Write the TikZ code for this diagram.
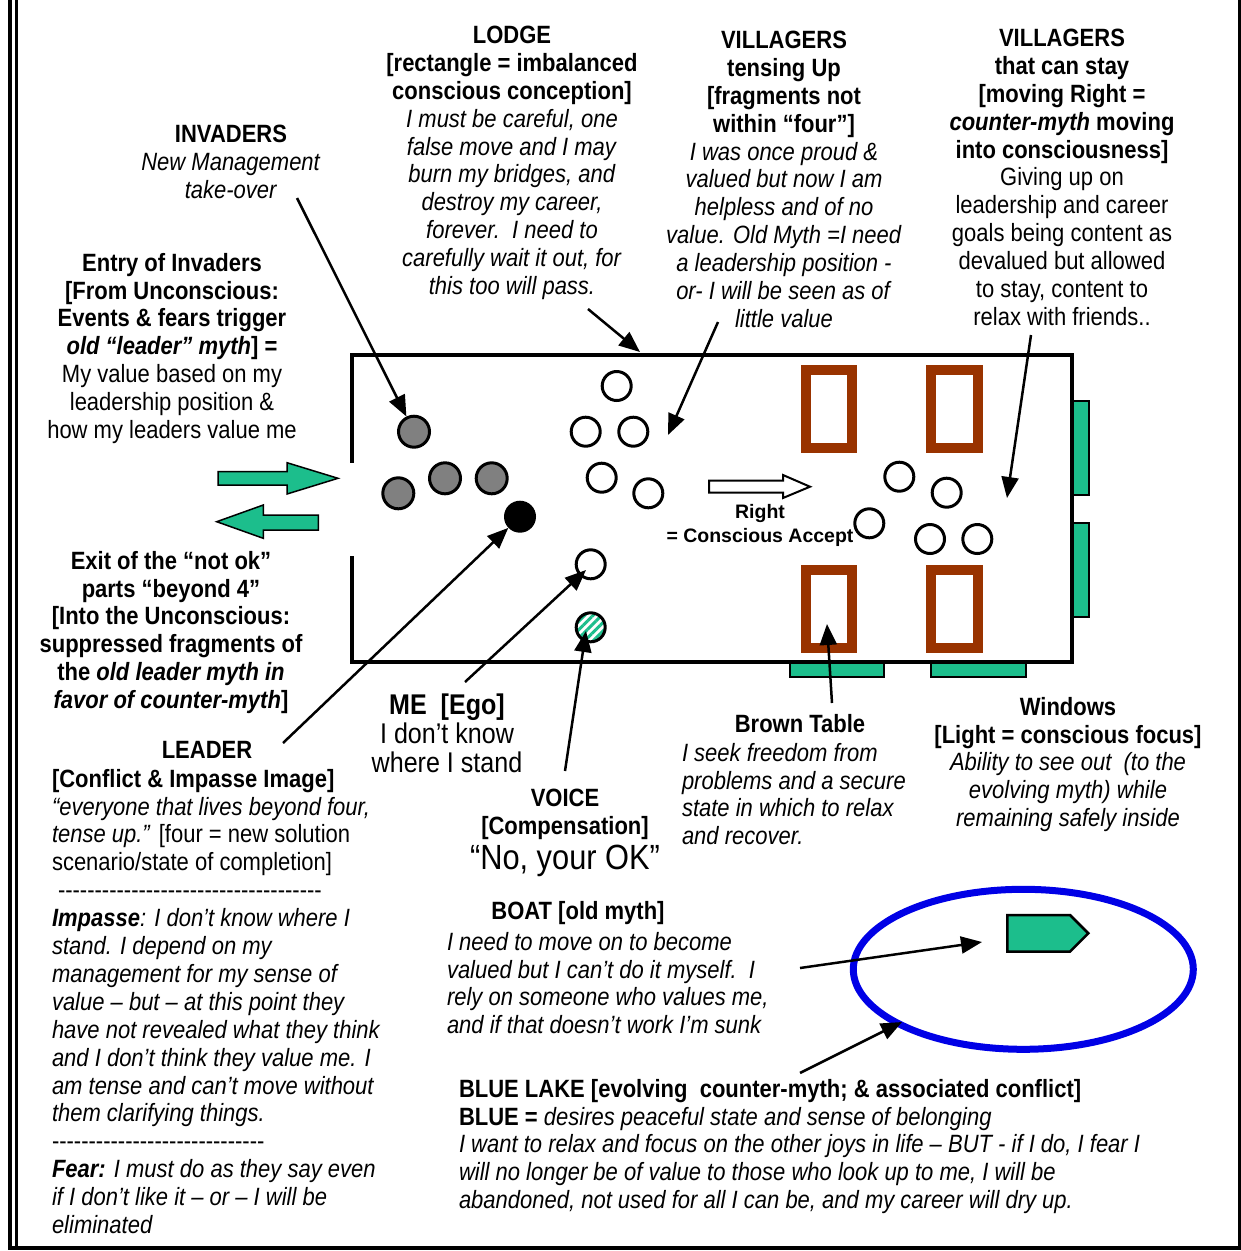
\documentclass[tikz,border=0pt]{standalone}
\usepackage{fontspec}
\setmainfont{Liberation Sans}[FakeStretch=0.88]
\newfontfamily\labelfont{Liberation Sans}
\usetikzlibrary{arrows.meta,patterns.meta}

\definecolor{lodgegreen}{RGB}{28,190,140}
\definecolor{tablebrown}{RGB}{153,51,0}
\definecolor{invgrey}{RGB}{128,128,128}
\definecolor{lakeblue}{RGB}{0,0,230}

\newcommand\fsz{\fontsize{25}{27.9}\selectfont}
\newcount\dashcnt
\newcommand\dashrow[1]{\dashcnt=0 \loop\ifnum\dashcnt<#1 -\kern0pt\advance\dashcnt by 1 \repeat}

\tikzset{
  txt/.style={inner sep=0pt, outer sep=0pt, font=\fsz, text=black},
  arr/.style={line width=2.5pt, -{Triangle[length=21pt,width=17pt]}},
  invader/.style={circle, draw, line width=3pt, fill=invgrey, minimum size=31pt, inner sep=0pt},
  villager/.style={circle, draw, line width=3pt, fill=white, minimum size=29pt, inner sep=0pt},
  ego/.style={circle, fill=black, minimum size=32pt, inner sep=0pt},
  voicedot/.style={circle, draw, line width=3pt, fill=white, minimum size=29pt, inner sep=0pt},
  tablebox/.style={draw=tablebrown, line width=10pt},
  windowbox/.style={draw=black, line width=2.5pt, fill=lodgegreen},
  greenarrow/.style={draw=black, line width=1.5pt, fill=lodgegreen, line join=miter},
}

\begin{document}
\begin{tikzpicture}[x=1pt,y=-1pt]
\useasboundingbox (0,0) rectangle (1241,1251);

% page frame
\draw[line width=4pt] (10,0) -- (10,1247.5) -- (1239.5,1247.5) -- (1239.5,0);
\draw[line width=3pt] (16.5,0) -- (16.5,1245.5);

% windows of the lodge
\draw[windowbox] (1073,401) rectangle (1089,495);
\draw[windowbox] (1073,523) rectangle (1089,617);
\draw[windowbox] (790,662) rectangle (884,677);
\draw[windowbox] (931,662) rectangle (1026,677);

% lodge walls with the door gap on the left
\draw[line width=4pt, line join=miter] (352,462.7) -- (352,355) -- (1072,355) -- (1072,662) -- (352,662) -- (352,556);

% brown tables
\draw[tablebox] (805.7,370) rectangle (852.3,448.3);
\draw[tablebox] (930.7,370) rectangle (977.7,448.3);
\draw[tablebox] (805.7,570) rectangle (852.3,648);
\draw[tablebox] (930.7,570) rectangle (977.7,648);

% entry and exit arrows
\draw[greenarrow] (218,471.7) -- (287,471.7) -- (287,462.7) -- (338,478.3) -- (287,494) -- (287,485) -- (218,485) -- cycle;
\draw[greenarrow] (318.3,515) -- (263.3,515) -- (263.3,505) -- (216.7,521.7) -- (263.3,538.3) -- (263.3,530) -- (318.3,530) -- cycle;

% hollow arrow pointing right
\draw[line width=2pt, fill=white, line join=miter] (709,480.7) -- (783,480.7) -- (783,475) -- (810,486.7) -- (783,498) -- (783,492.7) -- (709,492.7) -- cycle;

% invaders
\node[invader] (inv1) at (414,431.7) {};
\node[invader] (inv2) at (398.3,493.3) {};
\node[invader] (inv3) at (445,478.3) {};
\node[invader] (inv4) at (491.7,478.3) {};
\node[ego] (ego) at (520,516.7) {};

% villagers tensing up
\node[villager] (vt1) at (616.7,386) {};
\node[villager] (vt2) at (585.7,431.7) {};
\node[villager] (vt3) at (633.3,431.7) {};
\node[villager] (vt4) at (601.7,477.7) {};
\node[villager] (vt5) at (648.3,493.3) {};
\node[villager] (self) at (590.7,564.3) {};
\node[voicedot, pattern={Lines[angle=45,distance=6pt,line width=3pt]}, pattern color=lodgegreen] (voice) at (590.7,627.3) {};

% villagers that can stay
\node[villager] (vs1) at (899.3,476.7) {};
\node[villager] (vs2) at (946.7,492.7) {};
\node[villager] (vs3) at (869.3,523.3) {};
\node[villager] (vs4) at (930,539) {};
\node[villager] (vs5) at (977.3,539) {};

% blue lake and boat
\draw[draw=lakeblue, line width=7pt] (1023.3,969.3) ellipse [x radius=170, y radius=80];
\draw[draw=black, line width=2.5pt, fill=lodgegreen, line join=miter] (1007.3,915) -- (1070,915) -- (1088.3,933.3) -- (1070,951.7) -- (1007.3,951.7) -- cycle;

% texts
\node[txt, anchor=north, align=center] (lodge) at (512,26) {\textbf{LODGE}\\ \textbf{[rectangle = imbalanced}\\ \textbf{conscious conception]}\\ \textit{I must be careful, one}\\ \textit{false move and I may}\\ \textit{burn my bridges, and}\\ \textit{destroy my career,}\\ \textit{forever.\ \ I need to}\\ \textit{carefully wait it out, for}\\ \textit{this too will pass.}};

\node[txt, anchor=north, align=center] (tense) at (784,31) {\textbf{VILLAGERS}\\ \textbf{tensing Up}\\ \textbf{[fragments not}\\ \textbf{within “four”]}\\ \textit{I was once proud \&}\\ \textit{valued but now I am}\\ \textit{helpless and of no}\\ \textit{value. Old Myth =I need}\\ \textit{a leadership position -}\\ \textit{or- I will be seen as of}\\ \textit{little value}};

\node[txt, anchor=north, align=center] (stay) at (1062,29) {\textbf{VILLAGERS}\\ \textbf{that can stay}\\ \textbf{[moving Right =}\\ \textbf{\textit{counter-myth} moving}\\ \textbf{into consciousness]}\\ Giving up on\\ leadership and career\\ goals being content as\\ devalued but allowed\\ to stay, content to\\ relax with friends..};

\node[txt, anchor=north, align=center] (invaders) at (231,125) {\textbf{INVADERS}\\ \textit{New Management}\\ \textit{take-over}};

\node[txt, anchor=north, align=center] (entry) at (172,253) {\textbf{Entry of Invaders}\\ \textbf{[From Unconscious:}\\ \textbf{Events \& fears trigger}\\ \textbf{\textit{old “leader” myth}] =}\\ My value based on my\\ leadership position \&\\ how my leaders value me};

\node[txt, anchor=north, align=center, font=\fsz\bfseries] (exit) at (171,551) {Exit of the “not ok”\\ parts “beyond 4”\\ {[}Into the Unconscious:\\ suppressed fragments of\\ the \textit{old leader myth in}\\ \textit{favor of counter-myth}]};

\node[txt, anchor=north, align=center, font={\fontsize{28.5}{29}\selectfont}] (me) at (447,694) {\textbf{ME\ \ [Ego]}\\ I don’t know\\ where I stand};

\node[txt] (leader) at (207,750) {\textbf{LEADER}};
\node[txt, anchor=north west, align=left] (leaderbody) at (52,769) {\textbf{[Conflict \& Impasse Image]}\\
\textit{“everyone that lives beyond four,}\\
\textit{tense up.”} [four = new solution\\
scenario/state of completion]\\
\hspace*{6pt}\dashrow{36}\\
\textit{\textbf{Impasse}: I don’t know where I}\\
\textit{stand. I depend on my}\\
\textit{management for my sense of}\\
\textit{value – but – at this point they}\\
\textit{have not revealed what they think}\\
\textit{and I don’t think they value me. I}\\
\textit{am tense and can’t move without}\\
\textit{them clarifying things.}\\
\dashrow{29}\\
\textit{\textbf{Fear:} I must do as they say even}\\
\textit{if I don’t like it – or – I will be}\\
\textit{eliminated}};

\node[txt, anchor=north, align=center] (voicetxt) at (565,789) {\textbf{VOICE}\\ \textbf{[Compensation]}};
\node[txt, font={\fontsize{35}{40}\selectfont}] (voicequote) at (565,861) {“No, your OK”};

\node[txt] (tabletitle) at (800,724) {\textbf{Brown Table}};
\node[txt, anchor=north west, align=left, font=\fsz\itshape] (tablebody) at (682,743) {I seek freedom from\\ problems and a secure\\ state in which to relax\\ and recover.};

\node[txt, anchor=north, align=center] (windows) at (1068,697) {\textbf{Windows}\\ \textbf{[Light = conscious focus]}\\ \textit{Ability to see out\ \ (to the}\\ \textit{evolving myth) while}\\ \textit{remaining safely inside}};

\node[txt] (boattitle) at (578,913) {\textbf{BOAT [old myth]}};
\node[txt, anchor=north west, align=left, font=\fsz\itshape] (boatbody) at (447,932) {I need to move on to become\\ valued but I can’t do it myself.\ \ I\\ rely on someone who values me,\\ and if that doesn’t work I’m sunk};

\node[txt, anchor=north west, align=left] (lake) at (459,1079) {\textbf{BLUE LAKE [evolving\ \ counter-myth; \& associated conflict]}\\
\textbf{BLUE =} \textit{desires peaceful state and sense of belonging}\\
\textit{I want to relax and focus on the other joys in life – BUT - if I do, I fear I}\\
\textit{will no longer be of value to those who look up to me, I will be}\\
\textit{abandoned, not used for all I can be, and my career will dry up.}};

\node[txt, align=center, anchor=north, font={\labelfont\bfseries\fontsize{19.5}{24}\selectfont}] (right) at (760,504) {Right\\ = Conscious Accept};

% connector end points
\coordinate (invfrom) at (297,198);
\coordinate (lodgefrom) at (588,309);
\coordinate (lodgeto) at (640,352);
\coordinate (tensefrom) at (718,322);
\coordinate (tenseto) at (668,435);
\coordinate (stayfrom) at (1031,335);
\coordinate (stayto) at (1007,498);
\coordinate (leaderfrom) at (283,743);
\coordinate (mefrom) at (465,682);
\coordinate (meto) at (586,570);
\coordinate (voicefrom) at (565,771);
\coordinate (voiceto) at (586,631);
\coordinate (tablefrom) at (832,703);
\coordinate (tableto) at (827,624);
\coordinate (boatfrom) at (800,968);
\coordinate (boatto) at (982,942);
\coordinate (lakefrom) at (800,1073);
\coordinate (laketo) at (902,1022);

% connectors
\draw[arr] (invfrom) -- (inv1);
\draw[arr] (lodgefrom) -- (lodgeto);
\draw[arr] (tensefrom) -- (tenseto);
\draw[arr] (stayfrom) -- (stayto);
\draw[arr] (leaderfrom) -- (ego);
\draw[arr] (mefrom) -- (meto);
\draw[arr] (voicefrom) -- (voiceto);
\draw[arr] (tablefrom) -- (tableto);
\draw[arr] (boatfrom) -- (boatto);
\draw[arr] (lakefrom) -- (laketo);
\end{tikzpicture}
\end{document}
